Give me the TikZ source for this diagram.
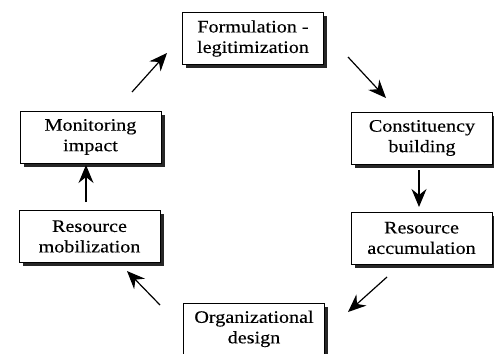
\documentclass[tikz,border=0pt]{standalone}
\usepackage{fontspec}
\setmainfont{Liberation Serif}[FakeStretch=1.15, FakeBold=0.3]
\usetikzlibrary{arrows.meta,shadows}
\begin{document}
\begin{tikzpicture}[x=1pt,y=-1pt,
  stagebox/.style={draw=black, line width=0.7pt, fill=white, minimum width=141pt, minimum height=52pt,
    inner sep=0pt, align=center, font=\fontsize{17.5}{20.5}\selectfont,
    drop shadow={shadow xshift=3.5pt, shadow yshift=-3.5pt, fill=black!85, opacity=1}},
  flow/.style={line width=1.2pt, -{Stealth[length=18pt,width=15pt,inset=6pt]}}]
\useasboundingbox (0,0) rectangle (494,353);
\clip (0,0) rectangle (494,353);
\node[stagebox] (form) at (253,38.5) {Formulation -\\legitimization};
\node[stagebox] (mon) at (90.5,137) {Monitoring\\impact};
\node[stagebox] (con) at (422,138) {Constituency\\building};
\node[stagebox] (mob) at (89.5,236.5) {Resource\\mobilization};
\node[stagebox] (acc) at (421.5,238) {Resource\\accumulation};
\node[stagebox, minimum height=58pt, text depth=10pt] (org) at (254,332) {Organizational\\design};
\coordinate (a1s) at (132,92);  \coordinate (a1e) at (167,53);
\coordinate (a2s) at (348,57);  \coordinate (a2e) at (386,98);
\coordinate (a3s) at (419,170); \coordinate (a3e) at (419,207);
\coordinate (a4s) at (387,277); \coordinate (a4e) at (348,312);
\coordinate (a5s) at (160,305); \coordinate (a5e) at (127,271);
\coordinate (a6s) at (86,202);  \coordinate (a6e) at (86,165);
\draw[flow] (a1s) -- (a1e);
\draw[flow] (a2s) -- (a2e);
\draw[flow] (a3s) -- (a3e);
\draw[flow] (a4s) -- (a4e);
\draw[flow] (a5s) -- (a5e);
\draw[flow] (a6s) -- (a6e);
\end{tikzpicture}
\end{document}
